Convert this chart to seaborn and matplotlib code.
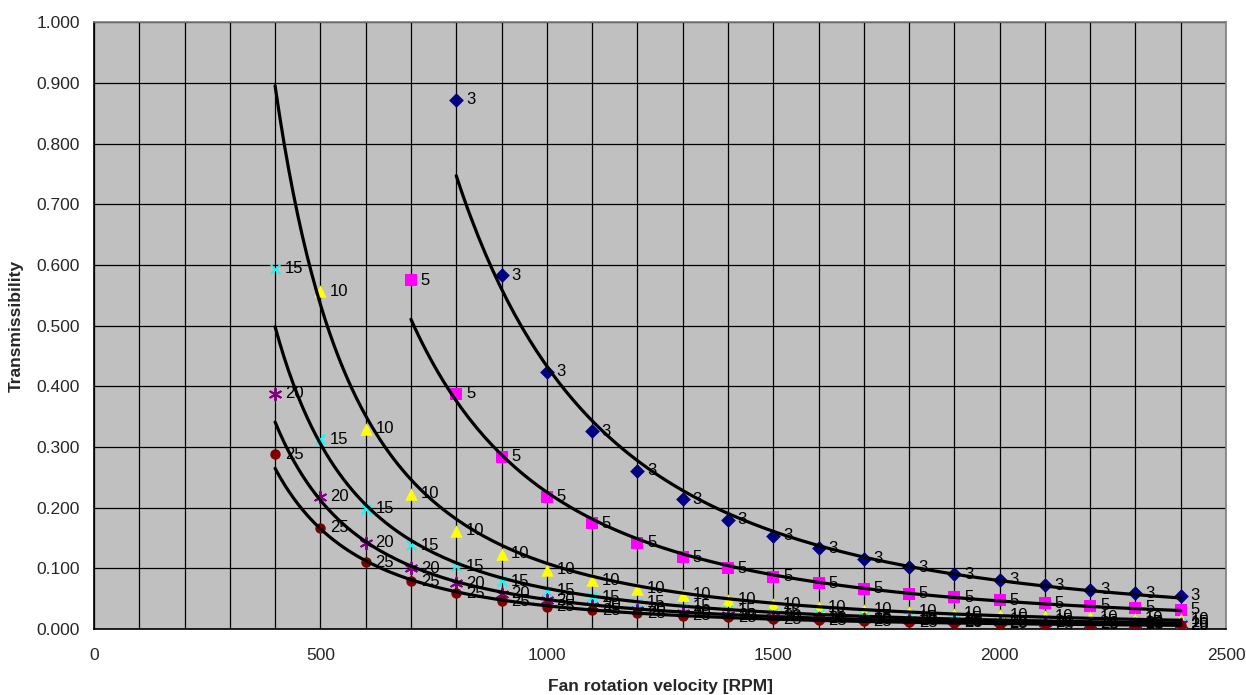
import numpy as np
import pandas as pd
import matplotlib
matplotlib.use("Agg")
import matplotlib.pyplot as plt
from matplotlib.ticker import MultipleLocator, FormatStrFormatter
import seaborn as sns

# Transmissibility readings per static deflection (series name = label on each point)
rpm_3 = [800, 900, 1000, 1100, 1200, 1300, 1400, 1500, 1600, 1700, 1800, 1900, 2000, 2100, 2200, 2300, 2400]
t_3 = [0.872, 0.583, 0.424, 0.326, 0.261, 0.214, 0.180, 0.154, 0.133, 0.116, 0.102, 0.090, 0.081, 0.072, 0.065, 0.059, 0.055]

rpm_5 = [700, 800, 900, 1000, 1100, 1200, 1300, 1400, 1500, 1600, 1700, 1800, 1900, 2000, 2100, 2200, 2300, 2400]
t_5 = [0.575, 0.388, 0.284, 0.218, 0.174, 0.142, 0.118, 0.100, 0.086, 0.075, 0.066, 0.058, 0.052, 0.047, 0.042, 0.038, 0.035, 0.032]

rpm_10 = [400, 500, 600, 700, 800, 900, 1000, 1100, 1200, 1300, 1400, 1500, 1600, 1700, 1800, 1900, 2000, 2100, 2200, 2300, 2400]
t_10 = [1.266, 0.557, 0.330, 0.223, 0.162, 0.124, 0.098, 0.080, 0.066, 0.056, 0.048, 0.041, 0.036, 0.032, 0.028, 0.025, 0.023, 0.021, 0.019, 0.017, 0.016]

rpm_15 = [400, 500, 600, 700, 800, 900, 1000, 1100, 1200, 1300, 1400, 1500, 1600, 1700, 1800, 1900, 2000, 2100, 2200, 2300, 2400]
t_15 = [0.594, 0.313, 0.198, 0.138, 0.103, 0.079, 0.063, 0.052, 0.043, 0.037, 0.031, 0.027, 0.024, 0.021, 0.019, 0.017, 0.015, 0.014, 0.012, 0.011, 0.010]

rpm_20 = [400, 500, 600, 700, 800, 900, 1000, 1100, 1200, 1300, 1400, 1500, 1600, 1700, 1800, 1900, 2000, 2100, 2200, 2300, 2400]
t_20 = [0.388, 0.218, 0.142, 0.100, 0.075, 0.058, 0.047, 0.038, 0.032, 0.027, 0.023, 0.020, 0.018, 0.016, 0.014, 0.013, 0.011, 0.010, 0.009, 0.009, 0.008]

rpm_25 = [400, 500, 600, 700, 800, 900, 1000, 1100, 1200, 1300, 1400, 1500, 1600, 1700, 1800, 1900, 2000, 2100, 2200, 2300, 2400]
t_25 = [0.288, 0.167, 0.110, 0.079, 0.059, 0.046, 0.037, 0.031, 0.026, 0.022, 0.019, 0.016, 0.014, 0.013, 0.011, 0.010, 0.009, 0.008, 0.007, 0.007, 0.006]

series = {
    "3": (rpm_3, t_3, "#000080", "D", 7.5),
    "5": (rpm_5, t_5, "#FF00FF", "s", 8),
    "10": (rpm_10, t_10, "#FFFF00", "^", 9),
    "15": (rpm_15, t_15, "#00FFFF", "x", 7),
    "20": (rpm_20, t_20, "#800080", (6, 2, 0), 8.5),
    "25": (rpm_25, t_25, "#800000", "o", 7.5),
}

sns.set_style("white")
plt.rcParams["font.family"] = ["Liberation Sans", "DejaVu Sans"]

fig = plt.figure(figsize=(12.46, 6.95), dpi=100)
ax = fig.add_axes([0.0754, 0.095, 0.9086, 0.873])
ax.set_facecolor("#C0C0C0")

for name, (x, y, color, marker, size) in series.items():
    df = pd.DataFrame({"rpm": x, "t": y})
    shown = df[df["t"] <= 1.0]
    line_marker = marker in ("x", (6, 2, 0))
    sns.scatterplot(data=shown, x="rpm", y="t", ax=ax, color=color, marker=marker,
                    s=size ** 2, edgecolor=None if line_marker else color,
                    linewidth=1.4 if line_marker else 0, zorder=3, legend=False)
    for xi, yi in zip(shown["rpm"], shown["t"]):
        ax.annotate(name, (xi, yi), xytext=(7, 0), textcoords="offset points",
                    va="center", ha="left", fontsize=12, color="black", zorder=5)

    # power trendline, fitted like Excel (least squares in log-log space)
    b, a = np.polyfit(np.log(df["rpm"]), np.log(df["t"]), 1)
    xs = np.linspace(df["rpm"].min(), df["rpm"].max(), 200)
    trend = pd.DataFrame({"rpm": xs, "t": np.exp(a) * xs ** b})
    sns.lineplot(data=trend, x="rpm", y="t", ax=ax, color="black", linewidth=2.3, zorder=4)

ax.set_xlim(0, 2500)
ax.set_ylim(0, 1.0)
ax.xaxis.set_major_locator(MultipleLocator(500))
ax.xaxis.set_minor_locator(MultipleLocator(100))
ax.yaxis.set_major_locator(MultipleLocator(0.1))
ax.yaxis.set_major_formatter(FormatStrFormatter("%.3f"))
ax.grid(which="both", color="black", linewidth=0.9)
ax.set_axisbelow(True)

ax.tick_params(axis="both", which="major", direction="out", length=4, width=1,
               labelsize=12.5, color="black", pad=6)
ax.tick_params(axis="x", which="minor", length=0)
ax.tick_params(axis="x", which="major", pad=10)

for side in ["top", "right"]:
    ax.spines[side].set_color("#808080")
    ax.spines[side].set_linewidth(1.2)
for side in ["left", "bottom"]:
    ax.spines[side].set_color("black")
    ax.spines[side].set_linewidth(1.2)

ax.set_xlabel("Fan rotation velocity [RPM]", fontsize=12.5, fontweight="bold", labelpad=11)
ax.set_ylabel("Transmissibility", fontsize=12.5, fontweight="bold", labelpad=9)

fig.savefig("out.png", dpi=100, facecolor="white")
